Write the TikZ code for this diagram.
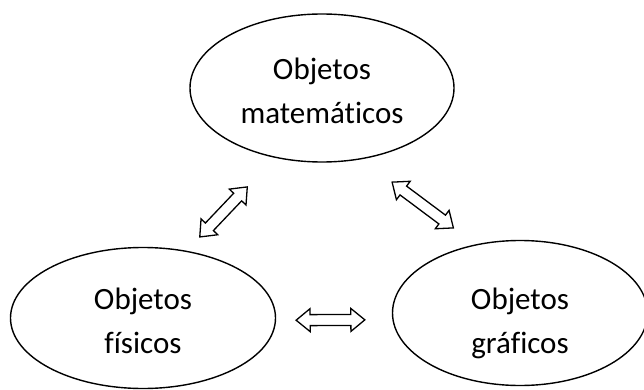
\documentclass[tikz,border=0pt]{standalone}
\usepackage{fontspec}
\setmainfont{Carlito}[Ligatures=NoCommon]
\usetikzlibrary{positioning,calc,shapes.geometric}
\tikzset{
    on grid,
    objeto/.style = {
        draw,
        shape=ellipse,
        inner sep=0pt,
        line width=1.4pt,
        align=center,
        text depth=0pt,
        font=\fontsize{31}{44}\selectfont
    },
    gap a/.store in=\gapA,
    gap b/.store in=\gapB,
    enlace/.style = {
        line width=1.3pt,
        to path={
            let \p1=($(\tikztostart)!\gapA!(\tikztotarget)$),
                \p2=($(\tikztotarget)!\gapB!(\tikztostart)$),
                \n1={atan2(\y2-\y1,\x2-\x1)},
                \n2={veclen(\x2-\x1,\y2-\y1)},
                \n3={\n2-14}
            in [shift={(\p1)}, rotate=\n1]
            (0,0) -- (14,11.5) -- (14,5.5) -- (\n3,5.5) -- (\n3,11.5) -- (\n2,0)
            -- (\n3,-11.5) -- (\n3,-5.5) -- (14,-5.5) -- (14,-11.5) -- cycle
        }
    },
}

\begin{document}
\begin{tikzpicture}[x=1pt, y=-1pt]
        \useasboundingbox (0,0) rectangle (644,390);

        \node[objeto, minimum width=264pt, minimum height=148pt, text height=72pt] (mat) at (322,88) {Objetos\\matemáticos};
        \node[objeto, minimum width=265pt, minimum height=141pt, text height=70pt, below left=230pt and 179pt of mat] (fis) {Objetos\\físicos};
        \node[objeto, minimum width=255pt, minimum height=145pt, text height=80pt, below right=225pt and 198pt of mat] (gra) {Objetos\\gráficos};

        \path[draw, enlace, gap a=19pt, gap b=40pt] (fis.57) to (mat.236);
        \path[draw, enlace, gap a=27.5pt, gap b=38pt] (gra.123) to (mat.299);
        \path[draw, enlace, gap a=20pt, gap b=27.5pt] (fis.-1) to (gra.183);
\end{tikzpicture}
\end{document}
